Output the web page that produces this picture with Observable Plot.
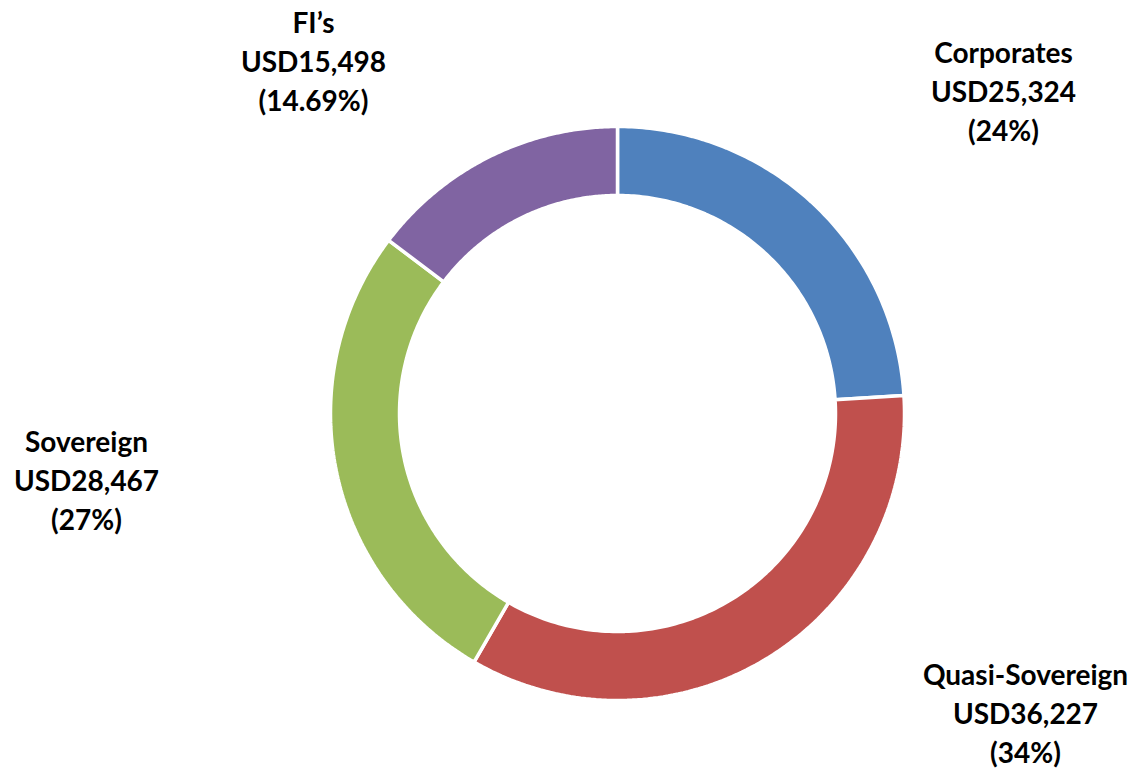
<!DOCTYPE html>
<html>
<head>
<meta charset="utf-8">
<script src="https://cdn.jsdelivr.net/npm/d3@7"></script>
<script src="https://cdn.jsdelivr.net/npm/@observablehq/plot@0.6"></script>
<style>
  html, body { margin: 0; padding: 0; background: #fff; }
  #chart svg { display: block; }
</style>
</head>
<body>
<div id="chart"></div>
<script>
// ---- data ----
const categories = ["Corporates", "Quasi-Sovereign", "Sovereign", "FI’s"];
const values = [25324, 36227, 28467, 15498];
const percentLabels = ["24%", "34%", "27%", "14.69%"];
const colors = ["#4F81BD", "#C0504D", "#9BBB59", "#8064A2"];

// ---- layout (not data) ----
const W = 1135, H = 768;
const cx = 617, cy = 413;          // ring centre in pixels
const rOuter = 287, rInner = 218;
// label block centres, offsets from ring centre (y up)
const labelOffsets = [[386, 324], [408, -298], [-531, -65], [-304, 354]];

const pie = d3.pie().sort(null).value(d => d.value);
const rows = categories.map((c, i) => ({cat: c, value: values[i], pct: percentLabels[i]}));
const arcs = pie(rows);

const pts = [];
arcs.forEach(a => {
  const n = 120;
  const poly = [];
  for (let k = 0; k <= n; k++) {
    const t = a.startAngle + (a.endAngle - a.startAngle) * k / n;
    poly.push([rOuter * Math.sin(t), rOuter * Math.cos(t)]);
  }
  for (let k = n; k >= 0; k--) {
    const t = a.startAngle + (a.endAngle - a.startAngle) * k / n;
    poly.push([rInner * Math.sin(t), rInner * Math.cos(t)]);
  }
  poly.push(poly[0]);
  poly.forEach(p => pts.push({cat: a.data.cat, x: p[0], y: p[1]}));
});

const labels = rows.map((r, i) => ({
  text: `${r.cat}\nUSD${d3.format(",")(r.value)}\n(${r.pct})`,
  x: labelOffsets[i][0],
  y: labelOffsets[i][1]
}));

const chart = Plot.plot({
  width: W,
  height: H,
  margin: 0,
  x: {domain: [-cx, W - cx], axis: null},
  y: {domain: [-(H - cy), cy], axis: null},
  color: {type: "ordinal", domain: categories, range: colors},
  marks: [
    Plot.line(pts, {x: "x", y: "y", z: "cat", fill: "cat", stroke: "white", strokeWidth: 3.5, strokeLinejoin: "miter"}),
    Plot.text(labels, {
      x: "x", y: "y", text: "text",
      fontFamily: "Lato", fontWeight: "bold", fontSize: 28, lineHeight: 1.39,
      fill: "#000", textAnchor: "middle"
    })
  ]
});
document.getElementById("chart").appendChild(chart);
</script>
</body>
</html>
